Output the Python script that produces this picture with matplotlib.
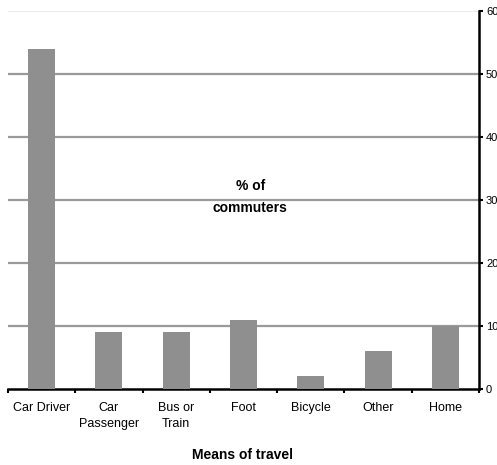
import matplotlib
matplotlib.use('Agg')
import matplotlib.pyplot as plt

categories = ['Car Driver', 'Car\nPassenger', 'Bus or\nTrain', 'Foot', 'Bicycle', 'Other', 'Home']
percent = [54, 9, 9, 11, 2, 6, 10]
yticks = [0, 10, 20, 30, 40, 50, 60]

plt.rcParams['font.family'] = ['Liberation Sans', 'DejaVu Sans']

fig = plt.figure(figsize=(4.97, 4.65), dpi=100)
ax = fig.add_axes([8 / 497, 1 - 389 / 465, 471 / 497, 378 / 465])

x = list(range(len(categories)))
ax.bar(x, percent, width=0.4, color='#8f8f8f', zorder=3)

for v in yticks[1:-1]:
    ax.axhline(v, color='#9a9a9a', lw=1.6, zorder=1)
ax.axhline(60, color='#e6e6e6', lw=1.2, zorder=1)

ax.set_xlim(-0.5, len(categories) - 0.5)
ax.set_ylim(0, 60)

for s in ['left', 'top']:
    ax.spines[s].set_visible(False)
ax.spines['right'].set_linewidth(1.8)
ax.spines['bottom'].set_linewidth(1.8)

ax.yaxis.tick_right()
ax.set_yticks(yticks)
ax.tick_params(axis='y', length=3, width=1.5, labelsize=8, pad=2)

ax.set_xticks([i - 0.5 for i in range(len(categories) + 1)])
ax.set_xticklabels([])
ax.tick_params(axis='x', which='major', length=3, width=1.5)
ax.set_xticks(x, minor=True)
ax.set_xticklabels(categories, minor=True, fontsize=9, linespacing=1.45)
ax.tick_params(axis='x', which='minor', length=0, pad=9)

ax.text(3.1, 30.5, '% of\ncommuters', ha='center', va='center',
        fontsize=10, fontweight='bold', linespacing=1.75)
fig.text(243 / 497, 1 - 455 / 465, 'Means of travel', ha='center', va='center',
         fontsize=10, fontweight='bold')

fig.savefig('out.png', dpi=100)
